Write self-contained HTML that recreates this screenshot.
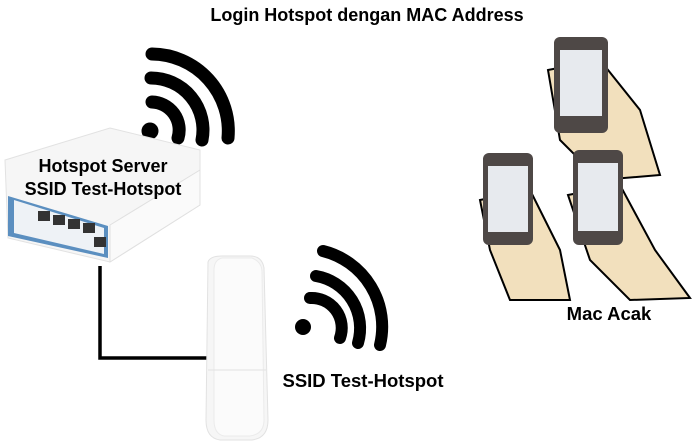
<!DOCTYPE html>
<html><head><meta charset="utf-8"><style>
html,body{margin:0;padding:0;background:#fff;width:695px;height:444px;overflow:hidden}
svg{display:block}
text{font-family:"Liberation Sans",sans-serif;font-weight:bold;fill:#000}
</style></head><body>
<svg width="695" height="444" viewBox="0 0 695 444">
<text x="367" y="21" font-size="18" text-anchor="middle">Login Hotspot dengan MAC Address</text>
<!-- wifi 1 -->
<g fill="none" stroke="#000" stroke-width="13" stroke-linecap="round">
<path d="M152 102 A28 28 0 0 1 178 138"/>
<path d="M151 78 A52 52 0 0 1 202 140"/>
<path d="M152 54 A77 77 0 0 1 228 138"/>
</g>
<circle cx="150" cy="131" r="8.5" fill="#000"/>
<!-- router -->
<polygon points="5,160 110,128 200,150 200,205 110,262 8,238" fill="#f6f6f6" stroke="#e2e2e2"/>
<polygon points="8,196 108,226 108,258 8,236" fill="#5b8fc0"/>
<polygon points="14,200 104,228 104,254 14,233" fill="#eef2f6"/>
<g fill="#333">
<rect x="38" y="211" width="12" height="10"/><rect x="53" y="215" width="12" height="10"/><rect x="68" y="219" width="12" height="10"/><rect x="83" y="223" width="12" height="10"/><rect x="94" y="237" width="12" height="10"/>
</g>
<polygon points="110,225 200,170 200,205 110,262" fill="#fafafa" stroke="#e0e0e0"/>
<text x="103" y="172" font-size="18" text-anchor="middle">Hotspot Server</text>
<text x="103" y="195" font-size="18" text-anchor="middle">SSID Test-Hotspot</text>
<!-- cable -->
<polyline points="100,266 100,358 215,358" fill="none" stroke="#000" stroke-width="3.5"/>
<!-- AP -->
<path d="M208 262 Q210 256 222 256 L250 256 Q262 256 264 268 L268 420 Q268 438 252 440 L220 440 Q206 438 206 420 Z" fill="#f6f6f6" stroke="#e2e2e2"/>
<path d="M222 258 L252 258 Q262 262 262 272 L264 420 Q264 434 250 436 L224 436 Q214 434 214 420 L214 270 Q214 260 222 258Z" fill="#fbfbfb" stroke="#ebebeb"/>
<line x1="208" y1="370" x2="266" y2="370" stroke="#e2e2e2"/>
<!-- wifi 2 -->
<g fill="none" stroke="#000" stroke-width="12" stroke-linecap="round">
<path d="M310 298 A30 30 0 0 1 340 338"/>
<path d="M316 276 A53 53 0 0 1 358 343"/>
<path d="M323 251 A78 78 0 0 1 380 345"/>
</g>
<circle cx="303" cy="327" r="8" fill="#000"/>
<text x="363" y="387" font-size="18.5" text-anchor="middle">SSID Test-Hotspot</text>
<!-- phones -->
<g>
<path d="M548 70 L600 60 L640 110 L660 175 L600 180 L560 140 Z" fill="#f2e0bd" stroke="#000" stroke-width="2"/>
<rect x="554" y="37" width="54" height="96" rx="6" fill="#4e4846"/>
<rect x="560" y="50" width="42" height="66" fill="#e7eaee"/>
<path d="M480 200 L530 190 L560 250 L570 300 L510 300 L490 250 Z" fill="#f2e0bd" stroke="#000" stroke-width="2"/>
<rect x="483" y="153" width="50" height="92" rx="6" fill="#4e4846"/>
<rect x="488" y="166" width="40" height="66" fill="#e7eaee"/>
<path d="M568 195 L620 185 L655 250 L690 298 L630 300 L590 260 Z" fill="#f2e0bd" stroke="#000" stroke-width="2"/>
<rect x="573" y="150" width="50" height="95" rx="6" fill="#4e4846"/>
<rect x="578" y="163" width="40" height="68" fill="#e7eaee"/>
</g>
<text x="609" y="320" font-size="18.5" text-anchor="middle">Mac Acak</text>
</svg>
</body></html>
